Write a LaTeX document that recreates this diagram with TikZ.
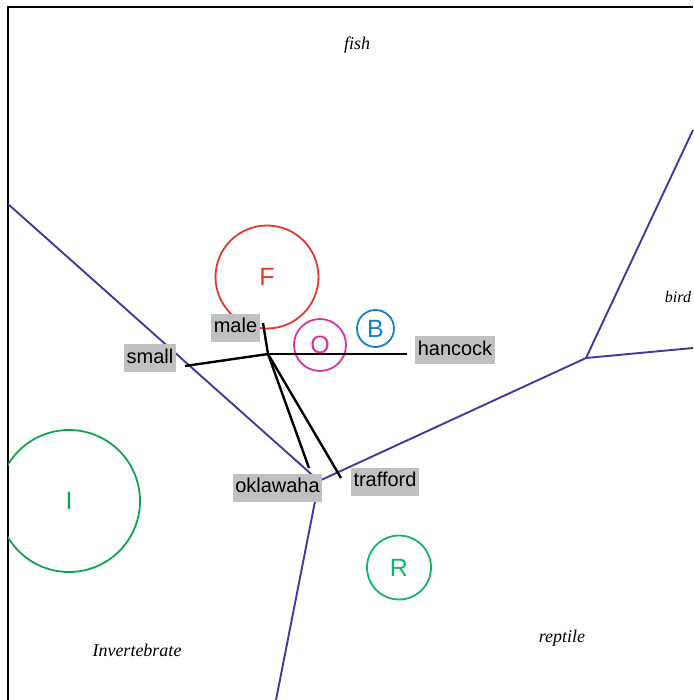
\documentclass[tikz,border=0pt]{standalone}
\usepackage{fontspec}
\setmainfont{Liberation Serif}
\setsansfont{Liberation Sans}
\usepackage{xcolor}
\usepackage{tikz}
\usetikzlibrary{positioning}

\definecolor{bordblue}{RGB}{66,56,160}
\definecolor{tagfill}{RGB}{192,192,192}
\definecolor{fred}{RGB}{228,56,42}
\definecolor{omag}{RGB}{214,52,152}
\definecolor{bblue}{RGB}{22,126,196}
\definecolor{igreen}{RGB}{16,164,82}
\definecolor{rgreen}{RGB}{22,178,106}

\begin{document}
\begin{tikzpicture}[x=1pt, y=-1pt,
  tag/.style={fill=tagfill, font=\sffamily\fontsize{20}{24}\selectfont, inner xsep=2.5pt, inner ysep=0pt, minimum height=28pt, text height=14.5pt, text depth=4pt},
  zone/.style={font=\itshape\fontsize{18}{21}\selectfont},
  cls/.style={draw, circle, line width=1.8pt, inner sep=0pt, font=\sffamily\fontsize{25}{28}\selectfont},
  border/.style={draw=bordblue, line width=1.9pt},
  spoke/.style={draw, line width=2.4pt}]
		\useasboundingbox (0,0) rectangle (693,700);
		\draw[line width=1.6pt] (8,700) -- (8,7) -- (693,7);
		% region names
		\node[zone] (fish) at (357,45) {fish};
		\node[zone, font=\itshape\fontsize{16}{18}\selectfont] (bird) at (678,297) {bird};
		\node[zone] (rep) at (562,638) {reptile};
		\node[zone] (inv) at (137,650) {Invertebrate};
		% region borders
		\coordinate (wl) at (8,204);
		\coordinate (j1) at (319,481);
		\coordinate (j2) at (586,358);
		\coordinate (ne) at (693,130);
		\coordinate (ea) at (693,348);
		\coordinate (so) at (276,700);
		\draw[border] (wl) -- (j1) -- (j2) -- (ne);
		\draw[border] (j2) -- (ea);
		\draw[border] (j1) -- (so);
		% class circles
		\node[cls, draw=fred, text=fred, minimum size=103pt] (F) at (267,277) {F};
		\node[cls, draw=omag, text=omag, minimum size=52pt] (O) at (320,345) {O};
		\node[cls, draw=bblue, text=bblue, minimum size=37pt] (B) at (375.5,328.5) {B};
		\begin{scope}
			\clip (8,0) rectangle (693,700);
			\node[cls, draw=igreen, text=igreen, minimum size=142pt] (I) at (69,501) {I};
		\end{scope}
		\node[cls, draw=rgreen, text=rgreen, minimum size=64pt] (R) at (399,567.5) {R};
		% feature spokes
		\coordinate (hub) at (268,354);
		\coordinate (emale) at (263,323);
		\coordinate (esmall) at (185,366);
		\coordinate (ehan) at (407,354);
		\coordinate (eokl) at (309,468);
		\coordinate (etra) at (341,478);
		\draw[spoke] (hub) -- (emale);
		\draw[spoke] (hub) -- (esmall);
		\draw[spoke] (hub) -- (ehan);
		\draw[spoke] (hub) -- (eokl);
		\draw[spoke] (hub) -- (etra);
		\node[tag] (male) at (235.5,327.5) {male};
		\node[tag] (small) at (150,358) {small};
		\node[tag] (han) at (455,350) {hancock};
		\node[tag] (okl) at (277.5,487.5) {oklawaha};
		\node[tag] (tra) at (385,481.5) {trafford};
	\end{tikzpicture}
\end{document}
